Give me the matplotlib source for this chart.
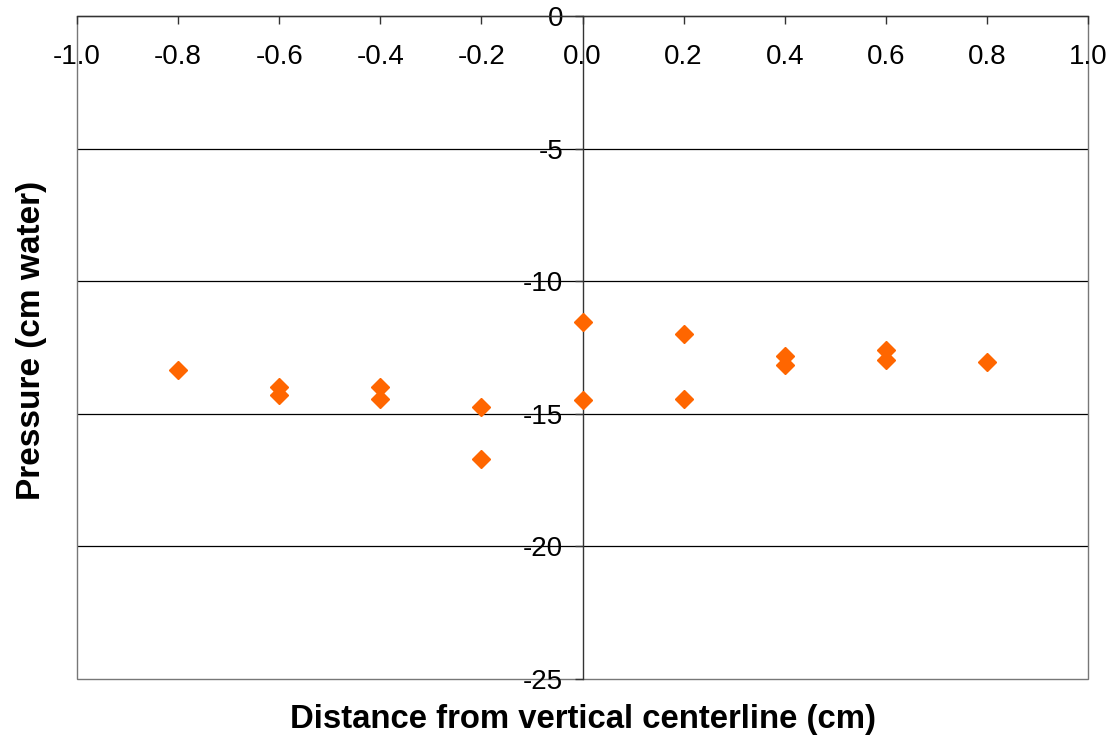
import matplotlib
matplotlib.use("Agg")
import matplotlib.pyplot as plt
from matplotlib.patches import Rectangle

plt.rcParams['font.family'] = ['Liberation Sans', 'DejaVu Sans']

# readings: distance from centerline (cm) and pressure (cm water)
distance = [-0.8, -0.6, -0.6, -0.4, -0.4, -0.2, -0.2, 0.0, 0.0,
            0.2, 0.2, 0.4, 0.4, 0.6, 0.6, 0.8]
pressure = [-13.36, -13.99, -14.31, -13.99, -14.46, -14.76, -16.70, -11.55, -14.48,
            -12.00, -14.44, -12.83, -13.17, -12.58, -12.96, -13.04]

x_ticks = [-1.0, -0.8, -0.6, -0.4, -0.2, 0.0, 0.2, 0.4, 0.6, 0.8, 1.0]
y_ticks = [0, -5, -10, -15, -20, -25]

fig = plt.figure(figsize=(11.14, 7.37), dpi=100)
ax = fig.add_axes([0.0691, 0.0787, 0.9076, 0.8996])

ax.plot(distance, pressure, linestyle='none', marker='D', markersize=9,
        color='#FF6600', markeredgecolor='#FF6600', zorder=3)

ax.set_xlim(-1.0, 1.0)
ax.set_ylim(-25, 0)

# axes cross at the origin like the spreadsheet chart
ax.spines['left'].set_position(('data', 0))
ax.spines['bottom'].set_position(('data', 0))
ax.spines['right'].set_visible(False)
ax.spines['top'].set_visible(False)
for s in ['left', 'bottom']:
    ax.spines[s].set_color('#333333')
    ax.spines[s].set_linewidth(1.0)

ax.set_xticks(x_ticks)
ax.set_xticklabels([f"{v:.1f}" for v in x_ticks])
ax.set_yticks(y_ticks)
ax.set_yticklabels([str(v) for v in y_ticks])
ax.tick_params(axis='both', labelsize=20, length=6, width=1, color='#333333')
ax.tick_params(axis='x', pad=14)
ax.tick_params(axis='y', pad=8)

for v in y_ticks[1:-1]:
    ax.axhline(v, color='black', linewidth=0.9, zorder=1)

# outer frame of the plot area
ax.add_patch(Rectangle((0, 0), 1, 1, transform=ax.transAxes, fill=False,
                       edgecolor='#777777', linewidth=1.0, clip_on=False))

ax.set_xlabel('Distance from vertical centerline (cm)', fontsize=23.7, fontweight='bold')
ax.xaxis.set_label_coords(0.5, -0.037)
ax.set_ylabel('Pressure (cm water)', fontsize=24, fontweight='bold')
ax.yaxis.set_label_coords(-0.03, 0.51)

fig.savefig('out.png', dpi=100)
